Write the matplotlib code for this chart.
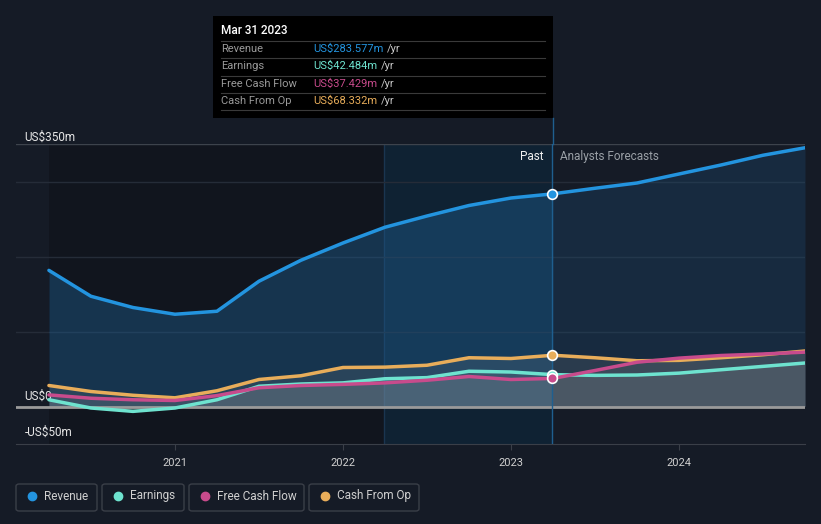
import matplotlib
matplotlib.use("Agg")
import matplotlib.pyplot as plt
from matplotlib.patches import Rectangle, FancyBboxPatch
from matplotlib.lines import Line2D

plt.rcParams['font.family'] = ['Roboto', 'DejaVu Sans']

# quarter ends, decimal years (Mar 2020 .. Sep 2024)
years = [2020.25, 2020.5, 2020.75, 2021.0, 2021.25, 2021.5, 2021.75, 2022.0,
         2022.25, 2022.5, 2022.75, 2023.0, 2023.25,
         2023.5, 2023.75, 2024.0, 2024.25, 2024.5, 2024.75]
revenue = [181.5, 147, 132, 123, 127, 167, 195, 218, 239, 254, 268, 278, 283.577,
           291, 298, 310, 322, 335, 345]
earnings = [9, -2, -6.5, -2, 9, 27, 30, 31.5, 37, 38.5, 47, 46, 42.484,
            41.5, 42, 44.5, 49, 53.5, 58]
fcf = [15.5, 11, 9, 8, 14.5, 25, 28, 29.5, 31.5, 35, 40, 36, 37.429,
       48, 59, 64.5, 68, 70, 72.5]
cfo = [28, 20, 15, 11.6, 21, 36, 41, 52, 52.5, 55, 65, 64, 68.332,
       65, 61, 61.5, 65, 69, 74]

now = 2023.244
now_idx = 12
names = ["Revenue", "Earnings", "Free Cash Flow", "Cash From Op"]
colors = ["#2394df", "#6ee3cf", "#c84b8c", "#e8ad5a"]
tip_vals = ["US$283.577m", "US$42.484m", "US$37.429m", "US$68.332m"]
year_ticks = [2021, 2022, 2023, 2024]

W, H = 821, 524
bg = "#151b26"
fig = plt.figure(figsize=(W / 100, H / 100), dpi=100, facecolor=bg)


def fx(px):
    return px / W


def fy(py):
    return 1 - py / H


ax = fig.add_axes([fx(16), fy(444), fx(805) - fx(16), fy(144) - fy(444)])
ax.set_facecolor(bg)
ax.set_xlim(2020.054, 2024.75)
ax.set_ylim(-50, 350)

# background bands
ax.axvspan(2020.25, now - 1, color="#11151e", zorder=0, lw=0)
ax.axvspan(now - 1, now, color="#0f2233", zorder=0, lw=0)
ax.axvline(now - 1, color="#1a3550", lw=1, zorder=0.5)

# grid
for g in [100, 200, 300]:
    ax.axhline(g, color="#252c38", lw=1, zorder=0.6)
ax.axhline(350, color="#3d434c", lw=1, zorder=0.6)
ax.axhline(0, color="#9a9a9a", lw=2, zorder=3)

# fills
past_x = years[:now_idx + 1]
fut_x = years[now_idx:]
ax.fill_between(past_x, 0, revenue[:now_idx + 1], color="#1e5a8a", alpha=0.45, lw=0, zorder=1)
ax.fill_between(fut_x, 0, revenue[now_idx:], color="#1e5a8a", alpha=0.25, lw=0, zorder=1)
for s in [cfo, fcf, earnings]:
    ax.fill_between(years, 0, s, color="#b0b0b0", alpha=0.13, lw=0, zorder=1.5)

for s, c in zip([revenue, cfo, earnings, fcf], [colors[0], colors[3], colors[1], colors[2]]):
    ax.plot(years, s, color=c, lw=2.5, solid_joinstyle="round", solid_capstyle="round", zorder=4)

ax.axvline(now, color="#1f5f8f", lw=1, zorder=3.5)
fig.add_artist(Line2D([fx(552.5), fx(552.5)], [fy(118), fy(144)], color="#1f5f8f", lw=1))

for s, c in zip([cfo, earnings, fcf, revenue], [colors[3], colors[1], colors[2], colors[0]]):
    ax.plot([now], [s[now_idx]], "o", ms=7, mfc=c, mec="white", mew=1.2, zorder=6)

# axes styling
for sp in ["top", "right", "left"]:
    ax.spines[sp].set_visible(False)
ax.spines["bottom"].set_color("#3a3f48")
ax.set_yticks([])
ax.set_xticks(year_ticks)
ax.set_xticklabels([str(y) for y in year_ticks])
ax.tick_params(axis="x", colors="#3a3f48", labelcolor="#d0d0d0", labelsize=8, length=4, pad=6)

ax.text(0.011, 350, "US$350m", transform=ax.get_yaxis_transform(), color="#e6e6e6",
        fontsize=8.5, va="bottom", ha="left")
ax.text(0.011, 5, "US$0", transform=ax.get_yaxis_transform(), color="#e6e6e6",
        fontsize=8.5, va="bottom", ha="left")
ax.text(0.011, -26, "-US$50m", transform=ax.get_yaxis_transform(), color="#e6e6e6",
        fontsize=8.5, va="top", ha="left")
ax.text(now - 0.05, 333, "Past", color="#f0f0f0", fontsize=8.5, ha="right", va="center")
ax.text(now + 0.05, 333, "Analysts Forecasts", color="#9aa0a6", fontsize=8.5, ha="left", va="center")

# tooltip
fig.add_artist(Rectangle((fx(213), fy(118)), fx(553) - fx(213), fy(16) - fy(118),
                         facecolor="black", edgecolor="none"))
fig.text(fx(221), fy(31), "Mar 31 2023", color="white", fontsize=8.5, va="center", weight="medium")
renderer = fig.canvas.get_renderer()
row_y = [49, 66, 84, 101]
for i, (n, v, c) in enumerate(zip(names, tip_vals, colors)):
    fig.add_artist(Line2D([fx(221), fx(545)], [fy(row_y[i] - 8.5)] * 2, color="#3a3a3a", lw=0.8))
    fig.text(fx(221), fy(row_y[i]), n, color="#9a9a9a", fontsize=8, va="center")
    t = fig.text(fx(313), fy(row_y[i]), v, color=c, fontsize=8, va="center")
    right = t.get_window_extent(renderer).x1
    fig.text((right + 4) / W, fy(row_y[i]), "/yr", color="#c8c8c8", fontsize=8, va="center")
fig.add_artist(Line2D([fx(221), fx(545)], [fy(110)] * 2, color="#3a3a3a", lw=0.8))

# legend
boxes = [(16, 97), (102, 184), (189, 304), (309, 419)]
for (x0, x1), n, c in zip(boxes, names, colors):
    fig.add_artist(FancyBboxPatch((fx(x0), fy(511)), fx(x1) - fx(x0), fy(484) - fy(511),
                                  boxstyle="round,pad=0,rounding_size=0.004",
                                  facecolor="none", edgecolor="#3a3f48", lw=1))
    fig.add_artist(Line2D([fx(x0 + 16)], [fy(496)], marker="o", ms=6, color=c, lw=0))
    fig.text(fx(x0 + 28), fy(496), n, color="#d0d0d0", fontsize=8.5, va="center")

fig.savefig("out.png", dpi=100, facecolor=bg)
